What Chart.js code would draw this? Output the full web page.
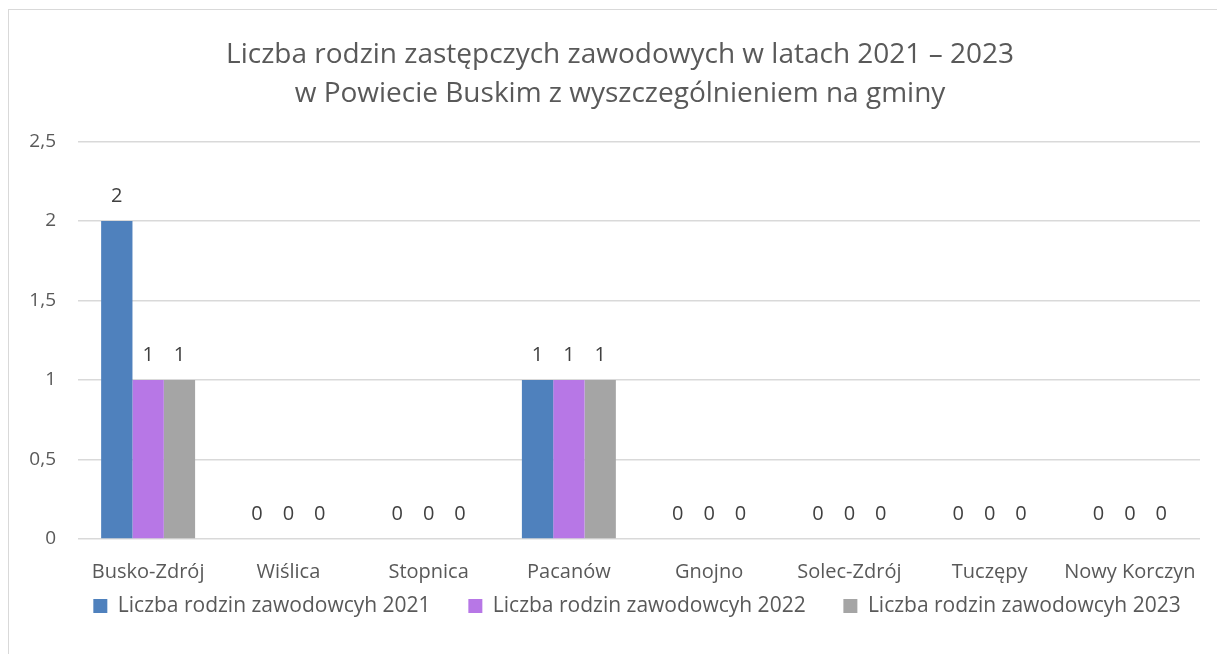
<!DOCTYPE html>
<html>
<head>
<meta charset="utf-8">
<script src="https://cdn.jsdelivr.net/npm/chart.js@4.4.1/dist/chart.umd.min.js"></script>
<style>
  html, body { margin: 0; padding: 0; background: #fff; overflow: hidden; }
  #frame { position: absolute; left: 8px; top: 9px; width: 1240px; height: 700px; border: 1.5px solid #d9d9d9; }
  #wrap { position: absolute; left: 0; top: 0; width: 1240px; height: 654px; }
</style>
</head>
<body>
<div id="frame"></div>
<div id="wrap"><canvas id="chart" width="1240" height="654"></canvas></div>
<script>
// Liczba rodzin zastępczych zawodowych 2021-2023 per gmina

const categories = ['Busko-Zdrój', 'Wiślica', 'Stopnica', 'Pacanów', 'Gnojno', 'Solec-Zdrój', 'Tuczępy', 'Nowy Korczyn'];
const values2021 = [2, 0, 0, 1, 0, 0, 0, 0];
const values2022 = [1, 0, 0, 1, 0, 0, 0, 0];
const values2023 = [1, 0, 0, 1, 0, 0, 0, 0];
const seriesLabels = ['Liczba rodzin zawodowcyh 2021', 'Liczba rodzin zawodowcyh 2022', 'Liczba rodzin zawodowcyh 2023'];
const seriesColors = ['#4f81bd', '#b777e6', '#a5a5a5'];
const titleLines = ['Liczba rodzin zastępczych zawodowych w latach 2021 – 2023', 'w Powiecie Buskim z wyszczególnieniem na gminy'];

const FONT = '"Open Sans", Calibri, sans-serif';

/**
 * Draws value labels above every bar (zeros included)
 */
const valueLabels = {
  id: 'valueLabels',
  afterDatasetsDraw(chart) {
    const ctx = chart.ctx;
    ctx.save();
    ctx.font = '20px ' + FONT;
    ctx.fillStyle = '#404040';
    ctx.textAlign = 'center';
    ctx.textBaseline = 'middle';
    chart.data.datasets.forEach((ds, i) => {
      const meta = chart.getDatasetMeta(i);
      meta.data.forEach((bar, j) => {
        ctx.fillText(String(ds.data[j]), bar.x, bar.y - 25);
      });
    });
    ctx.restore();
  }
};

// legend sits a bit right of the canvas centre in the original
const legendShift = {
  id: 'legendShift',
  afterLayout(chart) {
    if (chart.legend) chart.legend.left += 34;
  }
};

const datasets = [values2021, values2022, values2023].map((d, i) => ({
  label: seriesLabels[i],
  data: d,
  backgroundColor: seriesColors[i],
  borderWidth: 0,
  categoryPercentage: 0.67,
  barPercentage: 1.0
}));

// wider gaps between legend entries (trailing spaces, not on the last one)
function legendLabels(chart) {
  const items = Chart.defaults.plugins.legend.labels.generateLabels(chart);
  items.forEach((it, i) => {
    if (i < items.length - 1) it.text += '\u00a0\u00a0\u00a0\u00a0\u00a0\u00a0';
  });
  return items;
}

new Chart(document.getElementById('chart'), {
  type: 'bar',
  data: { labels: categories, datasets: datasets },
  options: {
    responsive: false,
    animation: false,
    layout: { padding: { top: 10, left: 0, right: 0, bottom: 27.5 } },
    plugins: {
      title: {
        display: true,
        text: titleLines,
        color: '#595959',
        font: { family: FONT, size: 28, weight: 'normal', lineHeight: 1.4 },
        padding: { top: 25, bottom: 28 }
      },
      legend: {
        position: 'bottom',
        labels: {
          color: '#595959',
          font: { family: FONT, size: 21 },
          boxWidth: 14,
          boxHeight: 14,
          padding: 5,
          generateLabels: legendLabels
        }
      },
      tooltip: { enabled: false }
    },
    scales: {
      x: {
        afterFit: s => { s.height = 51.5; },
        grid: { display: false, drawTicks: false },
        border: { display: false },
        ticks: { color: '#595959', font: { family: FONT, size: 20 }, padding: 21, maxRotation: 0, autoSkip: false }
      },
      y: {
        min: 0,
        max: 2.5,
        afterFit: s => { s.width = 78; },
        grid: { color: '#d9d9d9', lineWidth: 1.5, drawTicks: false },
        border: { display: false },
        ticks: {
          stepSize: 0.5,
          color: '#595959',
          font: { family: FONT, size: 19 },
          padding: 22,
          callback: v => String(v).replace('.', ',')
        }
      },
      yRight: {
        position: 'right',
        display: true,
        afterFit: s => { s.width = 40; },
        grid: { display: false, drawOnChartArea: false },
        border: { display: false },
        ticks: { display: false }
      }
    }
  },
  plugins: [valueLabels, legendShift]
});
</script>
</body>
</html>
